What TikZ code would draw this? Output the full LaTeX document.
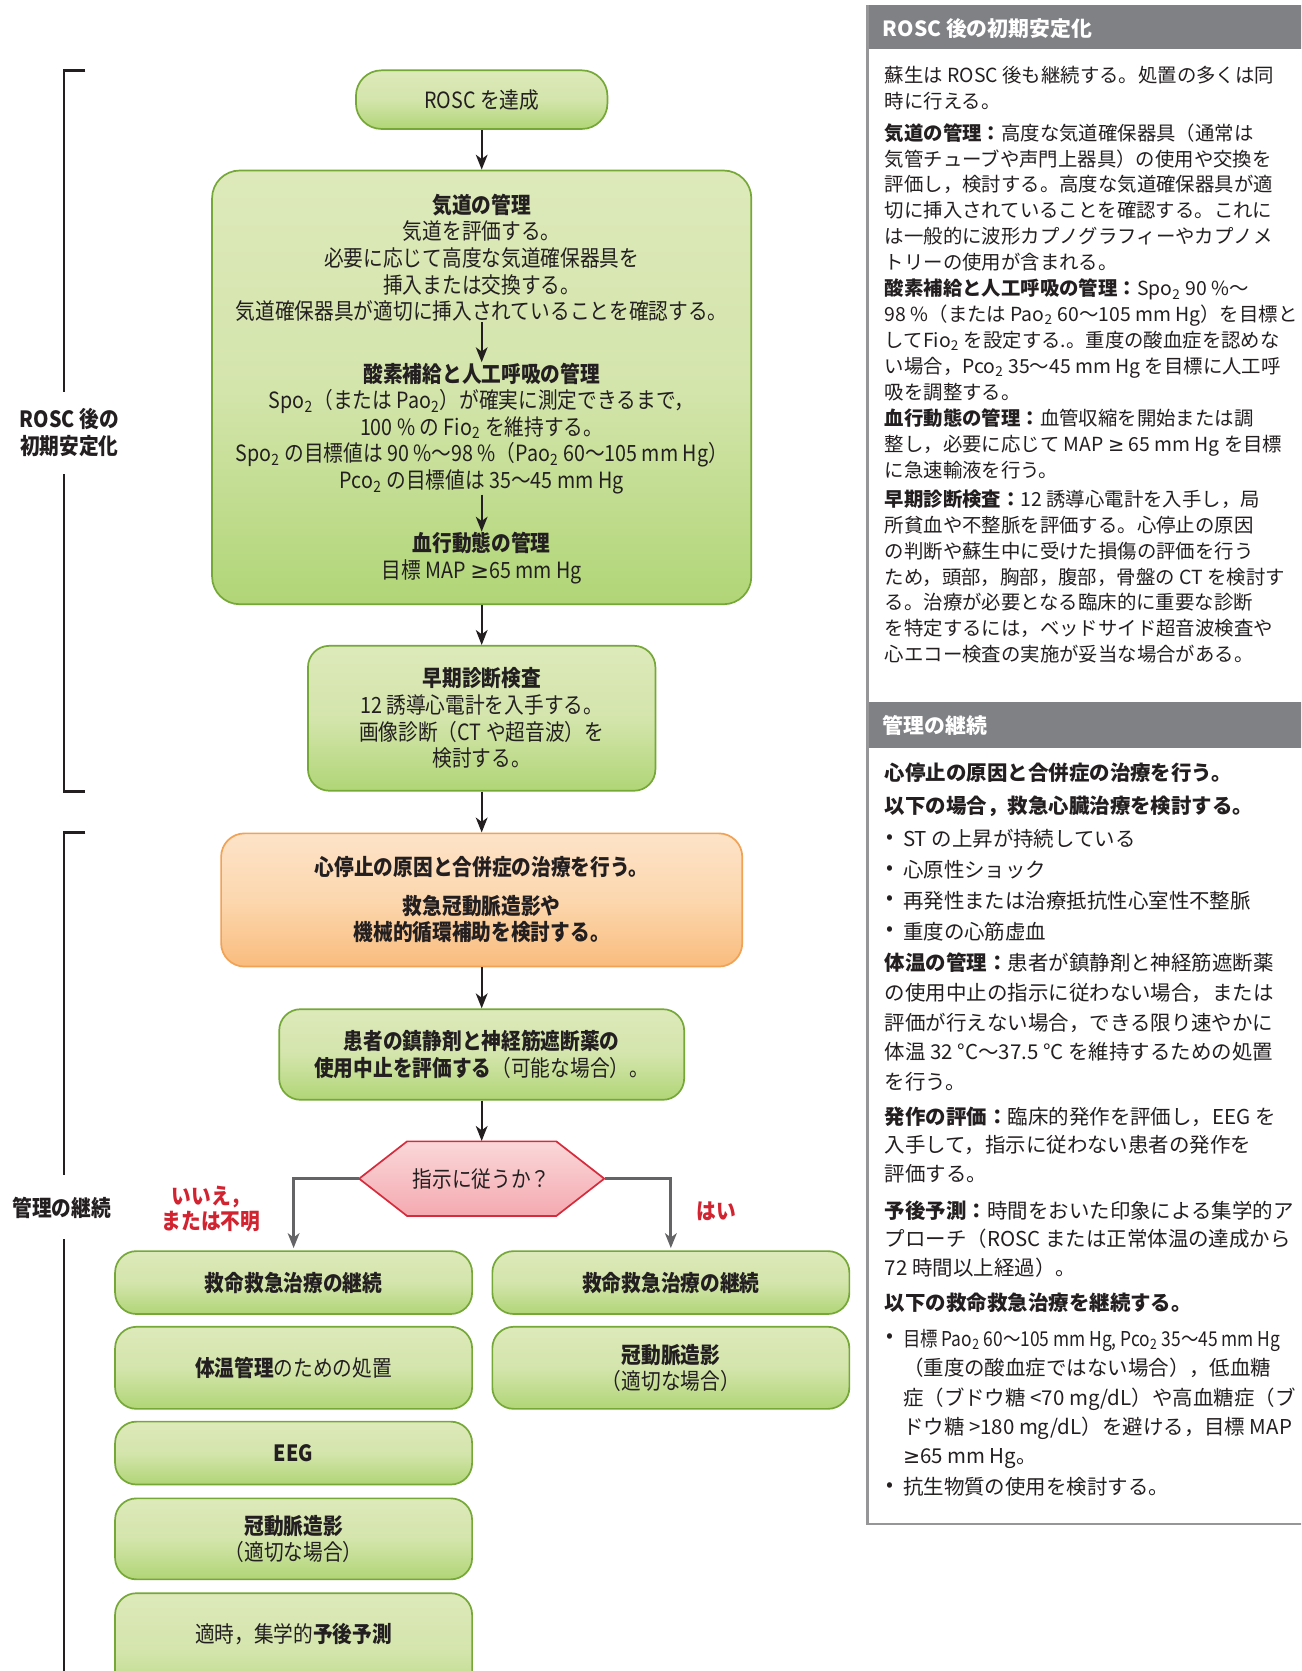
\documentclass[tikz,border=0pt]{standalone}
\usepackage{fontspec}
\usepackage{graphicx}
\setmainfont{Noto Sans CJK JP}
\newfontfamily\jpc[FakeStretch=0.88]{Noto Sans CJK JP}
\newfontfamily\symf{DejaVu Sans}
\usetikzlibrary{arrows.meta}
\definecolor{gtop}{RGB}{221,233,186}
\definecolor{gmid}{RGB}{212,229,172}
\definecolor{gbot}{RGB}{176,213,118}
\definecolor{gline}{RGB}{118,168,56}
\definecolor{otop}{RGB}{253,227,200}
\definecolor{omid}{RGB}{252,215,174}
\definecolor{obot}{RGB}{249,188,125}
\definecolor{oline}{RGB}{241,162,84}
\definecolor{htop}{RGB}{250,215,217}
\definecolor{hbot}{RGB}{244,170,176}
\definecolor{hline}{RGB}{214,43,60}
\definecolor{txt}{RGB}{35,31,32}
\definecolor{redl}{RGB}{209,35,48}
\definecolor{hdr}{RGB}{128,129,132}
\definecolor{pline}{RGB}{150,150,152}
\definecolor{garrc}{RGB}{100,100,102}
\begin{document}
\begin{tikzpicture}[x=0.5pt,y=-0.5pt,
  every node/.style={text=txt, inner sep=0pt},
  flow/.style={font=\jpc\fontsize{10.5pt}{12.5pt}\selectfont, align=center},
  gbox/.style={flow, draw=gline, line width=0.8pt, rounded corners=10pt,
    top color=gtop, bottom color=gbot, middle color=gmid},
  obox/.style={flow, draw=oline, line width=0.8pt, rounded corners=11pt,
    top color=otop, bottom color=obot, middle color=omid},
  arr/.style={-{Stealth[length=7pt,width=5.5pt,inset=2pt]}, line width=1pt, draw=txt},
  garr/.style={-{Stealth[length=7pt,width=5.5pt,inset=2pt]}, line width=1.3pt, draw=garrc, shorten >=1pt},
  brk/.style={line width=1.3pt, draw=txt},
  lab/.style={font=\jpc\bfseries\fontsize{10.5pt}{12.5pt}\selectfont, align=center},
  redlab/.style={font=\jpc\bfseries\fontsize{10.5pt}{11.5pt}\selectfont, align=center, text=redl},
  hdrtxt/.style={font=\bfseries\fontsize{9.8pt}{12pt}\selectfont, text=white, anchor=west},
  ptxt/.style={font=\fontsize{9.1pt}{12.1pt}\selectfont, align=left, anchor=north west},
  qtxt/.style={font=\fontsize{9.6pt}{13.7pt}\selectfont, align=left, anchor=north west},
  qline/.style={font=\fontsize{9.6pt}{13.7pt}\selectfont, anchor=west},
]
\useasboundingbox (0,0) rectangle (1221,1568);
\fill[white] (0,0) rectangle (1221,1568);
\clip (0,0) rectangle (1221,1568);

% ---------- brackets ----------
\draw[brk] (80,66) -- (60,66) -- (60,368);
\draw[brk] (60,445) -- (60,743) -- (80,743);
\draw[brk] (80,781) -- (60,781) -- (60,1103);
\draw[brk] (60,1163) -- (60,1600);
\node[lab] (lab1) at (65,406) {ROSC 後の\\初期安定化};
\node[lab] (lab2) at (58,1133) {管理の継続};

% ---------- main column ----------
\node[gbox, rounded corners=12pt, minimum width=118pt, minimum height=27.5pt] (rosc) at (452,93.5) {ROSC を達成};
\node[gbox, rounded corners=13pt, minimum width=253pt, minimum height=203.5pt] (big) at (452,363.5) {};
\node[flow] (a1) at (452,242) {\textbf{気道の管理}\\気道を評価する。\\必要に応じて高度な気道確保器具を\\挿入または交換する。\\気道確保器具が適切に挿入されていることを確認する。};
\node[flow] (a2) at (452,402) {\textbf{酸素補給と人工呼吸の管理}\\Spo\textsubscript{2}（または Pao\textsubscript{2}）が確実に測定できるまで，\\100 \% の Fio\textsubscript{2} を維持する。\\Spo\textsubscript{2} の目標値は 90 \%〜98 \%（Pao\textsubscript{2} 60〜105 mm Hg）\\Pco\textsubscript{2} の目標値は 35〜45 mm Hg};
\node[flow] (a3) at (452,523.5) {\textbf{血行動態の管理}\\目標 MAP {\symf ≥}65 mm Hg};
\draw[arr] (rosc) -- (big);
\draw[arr] (a1) -- (a2);
\draw[arr] (a2) -- (a3);

\node[gbox, minimum width=163pt, minimum height=68pt] (early) at (452,674) {\textbf{早期診断検査}\\12 誘導心電計を入手する。\\画像診断（CT や超音波）を\\検討する。};
\draw[arr] (big) -- (early);

\node[obox, minimum width=244.5pt, minimum height=62.5pt] (ora) at (452,844.5) {\textbf{心停止の原因と合併症の治療を行う。}\\[5.5pt]\textbf{救急冠動脈造影や}\\\textbf{機械的循環補助を検討する。}};
\draw[arr] (early) -- (ora);

\node[gbox, minimum width=190pt, minimum height=42.5pt] (pat) at (452,989.5) {\textbf{患者の鎮静剤と神経筋遮断薬の}\\\textbf{使用中止を評価する}（可能な場合）。};
\draw[arr] (ora) -- (pat);

% decision hexagon
\path[draw=hline, line width=0.8pt, top color=htop, bottom color=hbot]
  (337,1106) -- (382,1071) -- (522,1071) -- (567,1106) -- (522,1141) -- (382,1141) -- cycle;
\node[flow, minimum width=115pt, minimum height=35pt] (q) at (452,1106) {指示に従うか？};
\draw[arr] (pat) -- (q);

% ---------- branches ----------
\node[gbox, minimum width=167.5pt, minimum height=29.5pt] (L1) at (275.5,1203.5) {\textbf{救命救急治療の継続}};
\node[gbox, minimum width=167.5pt, minimum height=38.5pt] (L2) at (275.5,1283.5) {\textbf{体温管理}のための処置};
\node[gbox, minimum width=167.5pt, minimum height=29.5pt] (L3) at (275.5,1363.5) {\textbf{EEG}};
\node[gbox, minimum width=167.5pt, minimum height=38pt] (L4) at (275.5,1444) {\textbf{冠動脈造影}\\（適切な場合）};
\node[gbox, minimum width=167.5pt, minimum height=55pt] (L5) at (275.5,1550) {};
\node[flow] (L5t) at (275.5,1533) {適時，集学的\textbf{予後予測}};
\node[gbox, minimum width=167.5pt, minimum height=29.5pt] (R1) at (629.5,1203.5) {\textbf{救命救急治療の継続}};
\node[gbox, minimum width=167.5pt, minimum height=38.5pt] (R2) at (629.5,1283.5) {\textbf{冠動脈造影}\\（適切な場合）};
\draw[garr] (q.west) -| (L1.north);
\draw[garr] (q.east) -| (R1.north);
\node[redlab] (no) at (198,1134.5) {いいえ，\\または不明};
\node[redlab] (yes) at (672,1137) {はい};

% ---------- right panel ----------
\fill[hdr] (814,5) rectangle (1225,46);
\fill[hdr] (814,659) rectangle (1225,702);
\draw[pline, line width=1pt] (814,5) -- (814,1430) -- (1225,1430);
\node[hdrtxt] (h1) at (828,27) {ROSC 後の初期安定化};
\node[hdrtxt] (h2) at (828,680.5) {管理の継続};

\node[ptxt] (p1) at (830,61.5) {蘇生は ROSC 後も継続する。処置の多くは同\\時に行える。};
\node[ptxt] (p2) at (830,115.5) {\textbf{気道の管理：}高度な気道確保器具（通常は\\気管チューブや声門上器具）の使用や交換を\\評価し，検討する。高度な気道確保器具が適\\切に挿入されていることを確認する。これに\\は一般的に波形カプノグラフィーやカプノメ\\トリーの使用が含まれる。};
\node[ptxt] (p3) at (830,261.5) {\textbf{酸素補給と人工呼吸の管理：}Spo\textsubscript{2} 90 \%〜\\98 \%（または Pao\textsubscript{2} 60〜105 mm Hg）を目標と\\してFio\textsubscript{2} を設定する.。重度の酸血症を認めな\\い場合，Pco\textsubscript{2} 35〜45 mm Hg を目標に人工呼\\吸を調整する。};
\node[ptxt] (p4) at (830,383.5) {\textbf{血行動態の管理：}血管収縮を開始または調\\整し，必要に応じて MAP {\symf ≥} 65 mm Hg を目標\\に急速輸液を行う。};
\node[ptxt] (p5) at (830,459.5) {\textbf{早期診断検査：}12 誘導心電計を入手し，局\\所貧血や不整脈を評価する。心停止の原因\\の判断や蘇生中に受けた損傷の評価を行う\\ため，頭部，胸部，腹部，骨盤の CT を検討す\\る。治療が必要となる臨床的に重要な診断\\を特定するには，ベッドサイド超音波検査や\\心エコー検査の実施が妥当な場合がある。};

\node[qline] (q1) at (830,725) {\textbf{心停止の原因と合併症の治療を行う。}};
\node[qline] (q2) at (830,757) {\textbf{以下の場合，救急心臓治療を検討する。}};
\node[qline] (bu1) at (831,787) {•};
\node[qline] (bt1) at (847,787) {ST の上昇が持続している};
\node[qline] (bu2) at (831,816) {•};
\node[qline] (bt2) at (847,816) {心原性ショック};
\node[qline] (bu3) at (831,845) {•};
\node[qline] (bt3) at (847,845) {再発性または治療抵抗性心室性不整脈};
\node[qline] (bu4) at (831,874) {•};
\node[qline] (bt4) at (847,874) {重度の心筋虚血};
\node[qtxt, font=\fontsize{9.6pt}{13.9pt}\selectfont] (q3) at (830,894) {\textbf{体温の管理：}患者が鎮静剤と神経筋遮断薬\\の使用中止の指示に従わない場合，または\\評価が行えない場合，できる限り速やかに\\体温 32 °C〜37.5 °C を維持するための処置\\を行う。};
\node[qtxt, font=\fontsize{9.6pt}{13.5pt}\selectfont] (q4) at (830,1038) {\textbf{発作の評価：}臨床的発作を評価し，EEG を\\入手して，指示に従わない患者の発作を\\評価する。};
\node[qtxt, font=\fontsize{9.6pt}{13.5pt}\selectfont] (q5) at (830,1126) {\textbf{予後予測：}時間をおいた印象による集学的ア\\プローチ（ROSC または正常体温の達成から\\72 時間以上経過）。};
\node[qline] (q6) at (830,1222) {\textbf{以下の救命救急治療を継続する。}};
\node[qline] (bu5) at (831,1256) {•};
\node[qtxt, font=\fontsize{9.6pt}{13.75pt}\selectfont] (bt5) at (847,1247) {\scalebox{0.85}[1]{目標 Pao\textsubscript{2} 60〜105 mm Hg, Pco\textsubscript{2} 35〜45 mm Hg}\\（重度の酸血症ではない場合），低血糖\\症（ブドウ糖 <70 mg/dL）や高血糖症（ブ\\ドウ糖 >180 mg/dL）を避ける，目標 MAP\\{\symf ≥}65 mm Hg。};
\node[qline] (bu6) at (831,1395) {•};
\node[qline] (bt6) at (847,1395) {抗生物質の使用を検討する。};
\end{tikzpicture}
\end{document}
